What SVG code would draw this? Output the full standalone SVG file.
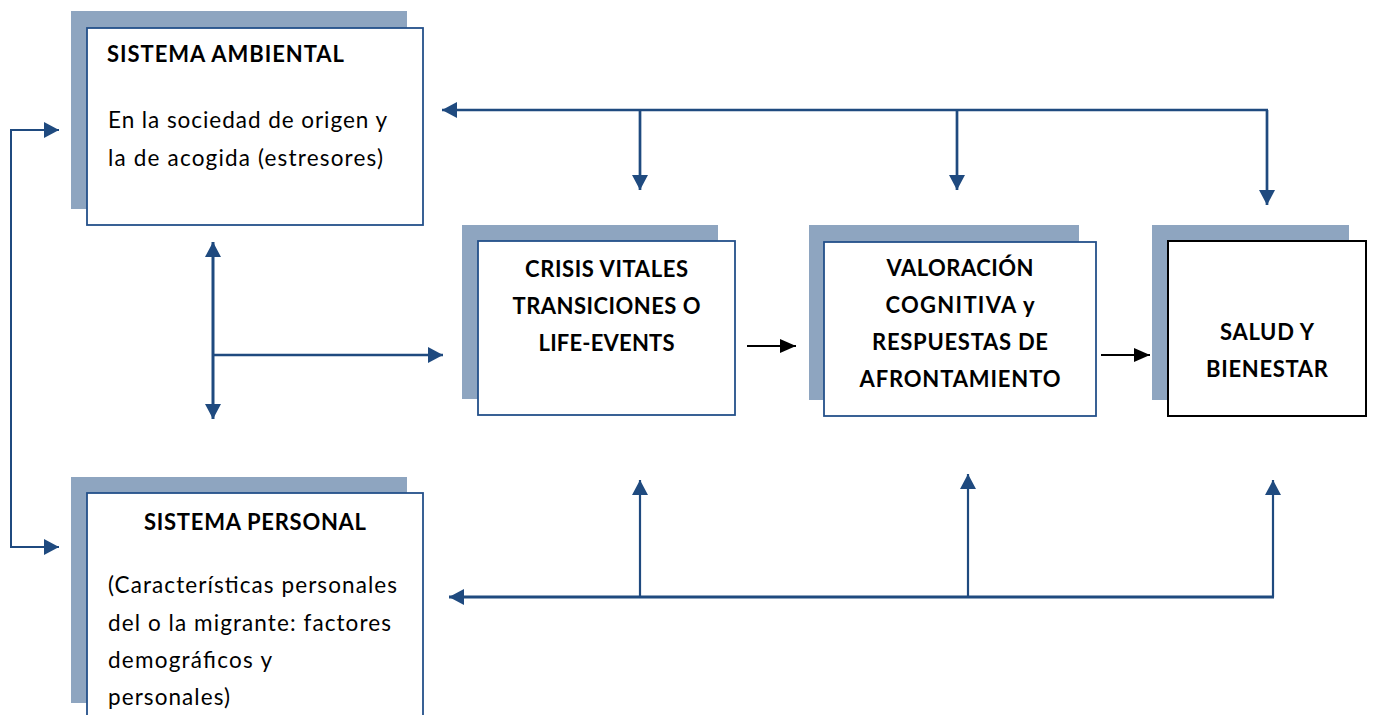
<svg xmlns="http://www.w3.org/2000/svg" width="1373" height="715" viewBox="0 0 1373 715">
<style>
.shadow{fill:#8EA5C0;}
.box{fill:#fff;stroke:#24508A;stroke-width:1.8;}
.boxk{fill:#fff;stroke:#000;stroke-width:2;}
text{font-family:Lato,"Open Sans","Liberation Sans",sans-serif;font-size:22.5px;fill:#000;}
.b{font-weight:bold;font-size:22px;}
.c{text-anchor:middle;}
.con{fill:none;stroke:#1F4A7F;}
.blk{fill:none;stroke:#000;stroke-width:2;}
</style>
<defs>
<marker id="ab" markerUnits="userSpaceOnUse" viewBox="0 0 15 16" markerWidth="15" markerHeight="16" refX="15" refY="8" orient="auto-start-reverse"><path d="M0,0 L15,8 L0,16 z" fill="#1F4A7F"/></marker>
<marker id="ak" markerUnits="userSpaceOnUse" viewBox="0 0 16 14" markerWidth="16" markerHeight="14" refX="16" refY="7" orient="auto"><path d="M0,0 L16,7 L0,14 z" fill="#000"/></marker>
</defs>
<g id="connectors">
<path class="con" stroke-width="2.7" d="M1268,110 H442" marker-end="url(#ab)"/>
<path class="con" stroke-width="2.7" d="M640,110 V190" marker-end="url(#ab)"/>
<path class="con" stroke-width="2.7" d="M957,110 V190" marker-end="url(#ab)"/>
<path class="con" stroke-width="2.7" d="M1267,110 V205" marker-end="url(#ab)"/>
<path class="con" stroke-width="2" d="M59,130 H11 V547 H59" marker-start="url(#ab)" marker-end="url(#ab)"/>
<path class="con" stroke-width="3" d="M213,242 V419" marker-start="url(#ab)" marker-end="url(#ab)"/>
<path class="con" stroke-width="2.7" d="M213,355 H443" marker-end="url(#ab)"/>
<path class="con" stroke-width="3" d="M1274,597 H449" marker-end="url(#ab)"/>
<path class="con" stroke-width="2.2" d="M640,597 V480" marker-end="url(#ab)"/>
<path class="con" stroke-width="2.2" d="M968,597 V474" marker-end="url(#ab)"/>
<path class="con" stroke-width="2.2" d="M1273,597 V480" marker-end="url(#ab)"/>
<path class="blk" d="M747,346 H796" marker-end="url(#ak)"/>
<path class="blk" d="M1101,355 H1150" marker-end="url(#ak)"/>
</g>
<g id="sistema-ambiental">
<rect class="shadow" x="71" y="11" width="336" height="198"/>
<rect class="box" x="87" y="28" width="336" height="197"/>
<text class="b" x="107" y="62" textLength="237" lengthAdjust="spacing">SISTEMA AMBIENTAL</text>
<text x="108" y="128" textLength="279" lengthAdjust="spacing">En la sociedad de origen y</text>
<text x="108" y="165.5" textLength="275" lengthAdjust="spacing">la de acogida (estresores)</text>
</g>
<g id="crisis-vitales">
<rect class="shadow" x="462" y="225" width="256" height="174"/>
<rect class="box" x="478" y="241" width="257" height="174"/>
<text class="b c" x="606.5" y="277" textLength="163" lengthAdjust="spacing">CRISIS VITALES</text>
<text class="b c" x="606.5" y="314" textLength="188" lengthAdjust="spacing">TRANSICIONES O</text>
<text class="b c" x="606.5" y="351" textLength="136" lengthAdjust="spacing">LIFE-EVENTS</text>
</g>
<g id="valoracion">
<rect class="shadow" x="809" y="225" width="270" height="175"/>
<rect class="box" x="824" y="242" width="272" height="174"/>
<text class="b c" x="960" y="276" textLength="147" lengthAdjust="spacing">VALORACIÓN</text>
<text class="b c" x="960" y="313" textLength="149" lengthAdjust="spacing">COGNITIVA y</text>
<text class="b c" x="960" y="350" textLength="176" lengthAdjust="spacing">RESPUESTAS DE</text>
<text class="b c" x="960" y="387" textLength="201" lengthAdjust="spacing">AFRONTAMIENTO</text>
</g>
<g id="salud">
<rect class="shadow" x="1152" y="225" width="197" height="175"/>
<rect class="boxk" x="1168" y="241" width="198" height="175"/>
<text class="b c" x="1267" y="340" textLength="94" lengthAdjust="spacing">SALUD Y</text>
<text class="b c" x="1267" y="377" textLength="122" lengthAdjust="spacing">BIENESTAR</text>
</g>
<g id="sistema-personal">
<rect class="shadow" x="71" y="477" width="336" height="226"/>
<rect class="box" x="87" y="493" width="336" height="240"/>
<text class="b c" x="255" y="530" textLength="222" lengthAdjust="spacing">SISTEMA PERSONAL</text>
<text x="108" y="593" textLength="289" lengthAdjust="spacing">(Características personales</text>
<text x="108" y="630.5" textLength="283" lengthAdjust="spacing">del o la migrante: factores</text>
<text x="108" y="668" textLength="164" lengthAdjust="spacing">demográficos y</text>
<text x="108" y="705" textLength="122" lengthAdjust="spacing">personales)</text>
</g>
</svg>
